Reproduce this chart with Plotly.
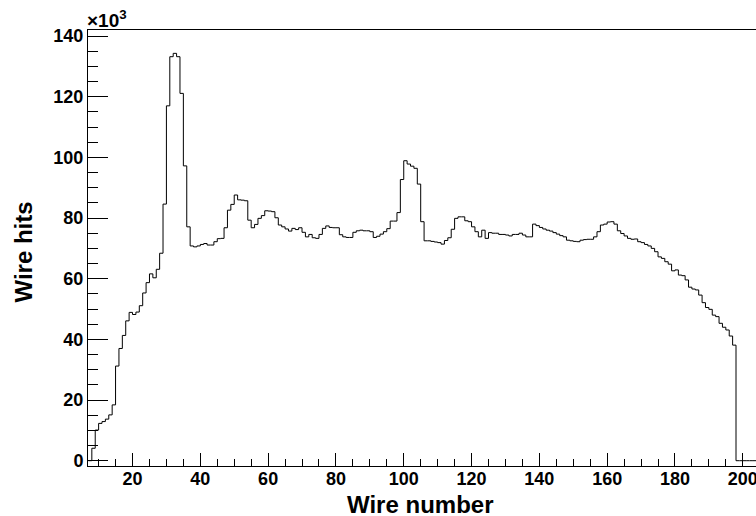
import plotly.graph_objects as go

# Bin left edges (wire number) and hits per bin (in units of 10^3)
wire_numbers = list(range(7, 204))
hits_k = [
    0.0, 4.1, 10.1, 12.3, 12.9, 13.7, 15.1, 18.4, 31.2, 37.0,        # 7-16
    41.3, 46.1, 48.9, 48.2, 49.0, 51.1, 55.3, 58.7, 61.6, 60.3,      # 17-26
    63.1, 68.4, 84.6, 117.0, 133.2, 134.3, 133.2, 121.1, 97.2, 77.1, # 27-36
    70.8, 70.5, 70.8, 71.3, 71.6, 71.1, 71.1, 72.2, 73.2, 73.3,      # 37-46
    76.8, 82.6, 84.5, 87.6, 86.0, 85.9, 85.7, 79.3, 76.8, 77.9,      # 47-56
    79.9, 80.8, 82.4, 82.3, 82.1, 80.1, 77.7, 77.1, 76.4, 75.7,      # 57-66
    76.6, 76.2, 76.8, 75.3, 73.8, 74.6, 73.5, 73.3, 74.6, 76.6,      # 67-76
    77.4, 76.9, 76.8, 76.8, 74.5, 73.8, 73.6, 73.6, 75.3, 75.8,      # 77-86
    76.0, 75.8, 75.8, 75.5, 73.6, 74.0, 74.7, 75.5, 76.5, 79.0,      # 87-96
    79.0, 81.8, 92.7, 98.9, 97.8, 97.1, 96.4, 91.2, 78.8, 72.5,      # 97-106
    72.5, 72.3, 72.1, 71.9, 71.4, 72.6, 73.5, 76.3, 79.9, 80.4,      # 107-116
    80.4, 79.1, 78.8, 77.1, 75.5, 73.8, 76.0, 73.3, 75.2, 75.0,      # 117-126
    75.0, 74.6, 74.6, 74.4, 74.1, 74.6, 74.6, 75.0, 74.4, 73.8,      # 127-136
    73.8, 78.0, 77.5, 76.9, 76.4, 76.0, 75.7, 75.2, 74.7, 74.2,      # 137-146
    73.8, 72.7, 72.5, 72.3, 72.2, 72.7, 72.9, 73.0, 73.0, 73.8,      # 147-156
    75.5, 77.7, 78.0, 78.7, 78.8, 78.0, 75.8, 74.9, 74.1, 73.3,      # 157-166
    73.0, 73.1, 72.2, 71.9, 71.3, 70.8, 70.0, 68.9, 67.2, 66.7,      # 167-176
    65.6, 64.8, 62.6, 62.9, 61.2, 61.0, 59.6, 57.2, 56.6, 56.3,      # 177-186
    54.6, 52.1, 50.5, 49.9, 48.0, 47.5, 45.3, 44.0, 43.1, 41.1,      # 187-196
    38.1, 0.0, 0.0, 0.0, 0.0, 0.0, 0.0,                              # 197-203
]

x_title = "Wire number"
y_title = "Wire hits"
exponent_label = "×10<sup>3</sup>"

# step outline: left edges plus final right edge
xs = wire_numbers + [wire_numbers[-1] + 1]
ys = hits_k + [hits_k[-1]]

FONT = "Liberation Sans"

fig = go.Figure()
fig.add_trace(go.Scatter(
    x=xs, y=ys, mode="lines", line_shape="hv",
    line=dict(color="black", width=1), hoverinfo="skip", showlegend=False,
))

fig.update_layout(
    width=756, height=516,
    margin=dict(l=88, r=0, t=30, b=50, autoexpand=False),
    paper_bgcolor="white", plot_bgcolor="white",
    showlegend=False,
)

fig.update_xaxes(
    range=[6.87, 203.9], showgrid=False, zeroline=False,
    showline=True, linecolor="black", linewidth=1, mirror=True,
    ticks="inside", ticklen=13, tickwidth=1, tickcolor="black",
    tick0=0, dtick=20, ticklabeloverflow="allow", ticklabelstandoff=-4,
    tickfont=dict(family=FONT, size=18, color="black", weight="bold"),
    minor=dict(ticks="inside", ticklen=7, tickwidth=1, tickcolor="black",
               tick0=0, dtick=5, showgrid=False),
    automargin=False,
)
fig.update_yaxes(
    range=[-1.75, 142.0], showgrid=False, zeroline=False,
    showline=True, linecolor="black", linewidth=1, mirror=False,
    ticks="inside", ticklen=20, tickwidth=1, tickcolor="black",
    tick0=0, dtick=20, ticklabeloverflow="allow",
    tickfont=dict(family=FONT, size=18, color="black", weight="bold"),
    minor=dict(ticks="inside", ticklen=10, tickwidth=1, tickcolor="black",
               tick0=0, dtick=5, showgrid=False),
    automargin=False,
)

fig.add_annotation(
    text=x_title, xref="paper", yref="paper", x=0.497, y=-0.088,
    xanchor="center", yanchor="middle", showarrow=False,
    font=dict(family=FONT, size=24, color="black", weight="bold"),
)
fig.add_annotation(
    text=y_title, xref="paper", yref="paper", x=-0.097, y=0.49,
    xanchor="center", yanchor="middle", textangle=-90, showarrow=False,
    font=dict(family=FONT, size=24, color="black", weight="bold"),
)
fig.add_annotation(
    text=exponent_label, xref="paper", yref="paper", x=0, y=1,
    xanchor="left", yanchor="bottom", showarrow=False, xshift=-3, yshift=-3,
    font=dict(family=FONT, size=19, color="black", weight="bold"),
)

fig.write_html("out.html")
